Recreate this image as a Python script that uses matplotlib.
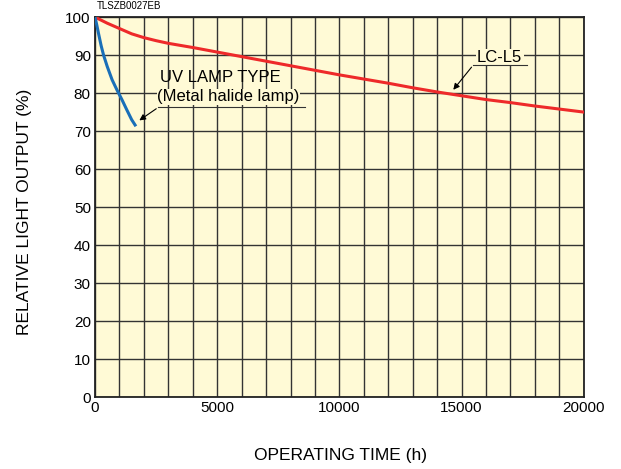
import matplotlib.pyplot as plt
import numpy as np

plt.rcParams['font.family'] = ['Liberation Sans', 'DejaVu Sans']

# LC-L5 curve (hours, %)
lc_hours = [0, 250, 500, 1000, 1500, 2000, 2500, 3000, 4000, 5000, 6000, 7000, 8000, 9000, 10000,
            11000, 12000, 13000, 14000, 15000, 16000, 17000, 18000, 19000, 20000]
lc_output = [100, 99.2, 98.4, 97.0, 95.6, 94.6, 93.8, 93.1, 92.0, 90.8, 89.6, 88.4, 87.2, 86.0, 84.8,
             83.7, 82.6, 81.4, 80.3, 79.3, 78.3, 77.5, 76.6, 75.8, 75.0]

# UV lamp (metal halide) curve
uv_hours = [0, 70, 150, 250, 350, 500, 700, 900, 1100, 1300, 1500, 1640]
uv_output = [100, 98.0, 95.5, 92.5, 90.0, 87.0, 83.5, 80.8, 78.3, 75.6, 73.0, 71.6]

fig = plt.figure(figsize=(6.21, 4.69), dpi=100)
ax = fig.add_axes([0.153, 0.1535, 0.787, 0.81])
ax.set_facecolor('#fffad6')

ax.set_xlim(0, 20000)
ax.set_ylim(0, 100)
ax.set_xticks(np.arange(0, 20001, 5000))
ax.set_xticks(np.arange(0, 20001, 1000), minor=True)
ax.set_yticks(np.arange(0, 101, 10))
ax.grid(which='both', axis='x', color='#333333', linewidth=1.0)
ax.grid(which='major', axis='y', color='#333333', linewidth=1.0)
ax.tick_params(which='both', length=0, labelsize=11, pad=3)
for s in ax.spines.values():
    s.set_linewidth(1.3)
    s.set_color('#222222')

ax.plot(lc_hours, lc_output, color='#ee2a2a', linewidth=2.2, zorder=3)
ax.plot(uv_hours, uv_output, color='#1a6fb8', linewidth=2.2, zorder=3)

# UV lamp label
ax.text(2660, 84, 'UV LAMP TYPE', fontsize=12, va='center', ha='left')
ax.text(2550, 79, '(Metal halide lamp)', fontsize=12, va='center', ha='left',
        bbox=dict(facecolor='#fffad6', edgecolor='none', pad=0.5))
ax.plot([2580, 8590], [76.3, 76.3], color='#333333', linewidth=0.8, zorder=4)
ax.annotate('', xy=(1720, 72.4), xytext=(2600, 76.3),
            arrowprops=dict(arrowstyle='-|>', color='black', lw=0.8, mutation_scale=9))

# LC-L5 label
ax.text(16560, 89.4, 'LC-L5', fontsize=12, va='center', ha='center',
        bbox=dict(facecolor='#fffad6', edgecolor='none', pad=1))
ax.plot([15460, 17670], [87.4, 87.4], color='#333333', linewidth=0.8, zorder=4)
ax.annotate('', xy=(14590, 80.3), xytext=(15480, 87.4),
            arrowprops=dict(arrowstyle='-|>', color='black', lw=0.8, mutation_scale=9))

fig.text(97 / 621, 1 - 6 / 469, 'TLSZB0027EB', fontsize=7, va='center', ha='left')
fig.text(25 / 621, 1 - 212 / 469, 'RELATIVE LIGHT OUTPUT (%)', fontsize=12.5, rotation=90,
         va='center', ha='center')
fig.text(341 / 621, 1 - 455 / 469, 'OPERATING TIME (h)', fontsize=12.5, va='center', ha='center')

fig.savefig('out.png', dpi=100)
